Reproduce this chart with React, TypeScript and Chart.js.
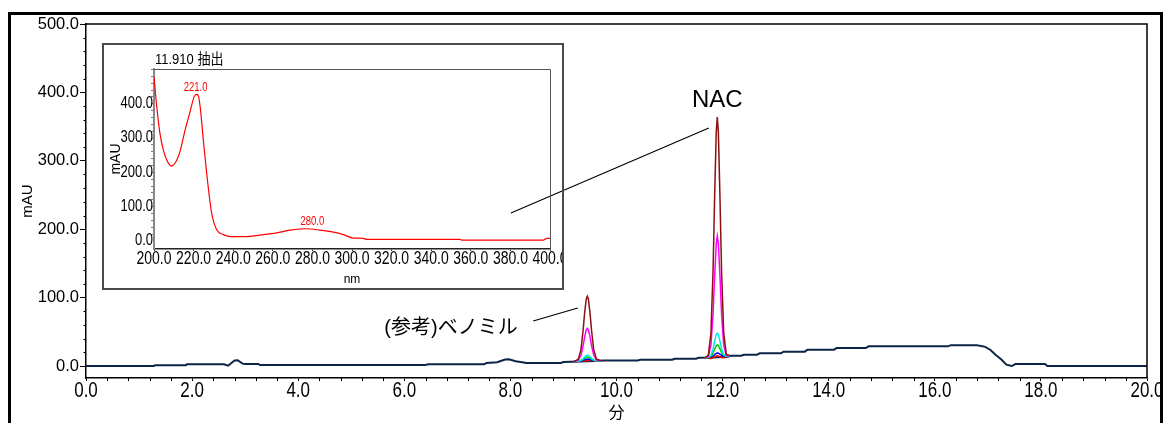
import React, { useEffect, useRef } from 'react';
import { Chart, registerables } from 'chart.js';

Chart.register(...registerables);

// ---------------- fonts ----------------
const SANS = "'Liberation Sans', Arial, sans-serif";
const JP = "'Liberation Sans', 'Noto Sans CJK JP', sans-serif";

// ---------------- main chromatogram ----------------
const xTickValues = [0, 2, 4, 6, 8, 10, 12, 14, 16, 18, 20];
const xTickLabels = ['0.0', '2.0', '4.0', '6.0', '8.0', '10.0', '12.0', '14.0', '16.0', '18.0', '20.0'];
const yTickValues = [0, 100, 200, 300, 400, 500];
const yTickLabels = ['0.0', '100.0', '200.0', '300.0', '400.0', '500.0'];
const xMinorStep = 0.4;
const yMinorStep = 20;

// baseline (all channels overlap)
const baseTimes = [
  0, 1.28, 1.3, 1.88, 1.9, 2.6, 2.68, 2.8, 2.86, 2.95, 3.0, 3.25, 3.28, 4.0, 5.0, 6.4, 6.45,
  7.5, 7.55, 7.75, 7.9, 7.97, 8.1, 8.25, 8.3, 8.95, 9.0, 9.3, 9.6, 9.75, 10.4, 10.45, 11.05,
  11.1, 11.5, 11.55, 11.8, 12.0, 12.1, 12.15, 12.35, 12.4, 12.65, 12.7, 13.1, 13.15, 13.55,
  13.6, 14.1, 14.15, 14.7, 14.75, 16.25, 16.3, 16.8, 16.85, 16.95, 17.05, 17.15, 17.25,
  17.35, 17.45, 17.52, 18.08, 18.12, 20.0,
];
const baseValues = [
  0, 0, 1.2, 1.2, 2.5, 2.5, 0.5, 8, 8.5, 3.5, 3, 3, 1.5, 1.5, 1.5, 1.5, 2.5,
  2.5, 4.4, 5.5, 9.5, 9.8, 7, 5, 4.4, 4.4, 5.8, 6.5, 7.3, 8.0, 8.0, 9.2, 9.2,
  10.7, 10.7, 12.1, 12.5, 13.2, 13.6, 15.0, 15.0, 16.5, 16.5, 18.5, 18.5, 21, 21,
  23.9, 23.9, 26.3, 26.3, 28.8, 28.8, 30.5, 30.5, 29.5, 28, 23.5, 16, 10,
  2, 0, 2.9, 2.9, 0, 0,
];

// (参考)ベノミル peak
const peakTimesA = [9.2, 9.28, 9.33, 9.37, 9.4, 9.43, 9.45, 9.47, 9.5, 9.53, 9.57, 9.62, 9.7];
// NAC peak
const peakTimesB = [11.66, 11.73, 11.78, 11.82, 11.85, 11.88, 11.9, 11.92, 11.95, 11.98, 12.02, 12.07, 12.14];

const darkRedA = [6.5, 10, 24, 52, 78, 98, 102, 98, 78, 52, 24, 10.5, 7.8];
const darkRedB = [11.6, 15.7, 47.5, 139, 248, 342, 364, 342, 248, 140, 48.7, 17, 15];
const magentaA = [6.5, 8.5, 15.5, 29.5, 42.7, 52.8, 55, 52.8, 43, 30, 16, 9, 7.8];
const magentaB = [11.6, 14, 30, 76, 131, 179, 190, 179, 132, 77, 31, 15.4, 15];
const cyanA = [6.5, 7.3, 8.6, 11, 13.3, 15.1, 16, 15.5, 13.6, 11.3, 8.9, 7.7, 7.8];
const cyanB = [11.6, 12.6, 16, 25, 36, 46, 48, 46, 36.5, 26, 17, 14, 15];
const greenA = [6.5, 7.1, 8, 9.8, 11.5, 12.8, 13, 12.9, 11.7, 10.1, 8.5, 7.6, 7.8];
const greenB = [11.6, 12.4, 14.2, 19, 24.6, 30, 31, 30, 25, 20, 15.4, 13.8, 15];
const blueA = [6.5, 7, 7.5, 8.4, 9.2, 9.9, 10, 10.1, 9.5, 8.7, 7.9, 7.6, 7.8];
const blueB = [11.6, 12.3, 13, 14.7, 16.6, 18.5, 19, 18.8, 17.4, 15.7, 14.2, 13.7, 15];
const redA = [6.5, 6.8, 7.2, 7.6, 7.8, 8, 8.1, 8.2, 8.1, 7.9, 7.6, 7.5, 7.8];
const redB = [11.6, 11.5, 11, 12, 13.5, 14.8, 15, 14.8, 13.8, 12.6, 12, 13, 15];

const traceColors = ['#8c1010', '#ff00ff', '#00e8f0', '#00cc00', '#0000ff', '#ff0000'];
const traceA = [darkRedA, magentaA, cyanA, greenA, blueA, redA];
const traceB = [darkRedB, magentaB, cyanB, greenB, blueB, redB];
const baselineColor = '#0b2447';

// annotations (data coordinates)
const nacText = 'NAC';
const nacTextAt = [11.9, 389];
const nacLine = [[8.01, 223.7], [11.74, 348]];
const benoText = '(参考)ベノミル';
const benoTextAt = [6.88, 55.6];
const benoLine = [[8.43, 65.8], [9.27, 84.8]];

// ---------------- inset UV spectrum ----------------
const insetTitle = '11.910 抽出';
const wavelengths = [
  200, 201.4, 203, 204.7, 206.4, 208.6, 210.6, 213.1, 215.7, 218.2, 220.2, 221.5, 222.5, 223.5,
  224.9, 226.6, 229.1, 231.6, 235, 239.2, 246.8, 253.5, 261.9, 268.7, 277.1, 283.8, 290.6,
  295.6, 300.7, 305.7, 307.4, 354.5, 355.4, 396.6, 398.3, 400,
];
const absorbance = [
  478, 389, 312, 264, 235, 217, 225, 259, 322, 375, 418, 426, 420, 380,
  293, 196, 80, 32, 17, 11, 11, 15.5, 22, 30, 34, 30, 24,
  17, 7, 6, 3, 3, 1, 1, 6, 6,
];
const insetXTicks = [200, 220, 240, 260, 280, 300, 320, 340, 360, 380, 400];
const insetXLabels = ['200.0', '220.0', '240.0', '260.0', '280.0', '300.0', '320.0', '340.0', '360.0', '380.0', '400.0'];
const insetYTicks = [0, 100, 200, 300, 400];
const insetYLabels = ['0.0', '100.0', '200.0', '300.0', '400.0'];
const insetYMinorStep = 20;
const peakLabelText = ['221.0', '280.0'];
const peakLabelX = [221.0, 280.0];
const peakLabelY = [426, 34];

const toPoints = (xs: number[], ys: number[]) => xs.map((x, i) => ({ x, y: ys[i] }));

// text drawn with a vertical stretch (the original uses a tall, narrow face)
function tallText(ctx: any, text: string, x: number, y: number, font: string, sy: number, align: string, color = '#000') {
  ctx.save();
  ctx.font = font;
  ctx.fillStyle = color;
  ctx.textAlign = align;
  ctx.textBaseline = 'middle';
  ctx.translate(x, y);
  ctx.scale(1, sy);
  ctx.fillText(text, 0, 0);
  ctx.restore();
}

function mainConfig(): any {
  const datasets: any[] = traceColors.map((c, k) => ({
    data: [...toPoints(peakTimesA, traceA[k]), { x: 10.6, y: null }, ...toPoints(peakTimesB, traceB[k])],
    borderColor: c,
    borderWidth: 1.5,
    pointRadius: 0,
    spanGaps: false,
    fill: false,
  }));
  datasets.push({
    data: toPoints(baseTimes, baseValues),
    borderColor: baselineColor,
    borderWidth: 2,
    pointRadius: 0,
    fill: false,
  });

  const decor = {
    id: 'mainDecor',
    afterDraw(chart: any) {
      const { ctx, chartArea: a, scales } = chart;
      const xs = scales.x;
      const ys = scales.y;
      ctx.save();
      // frame
      ctx.strokeStyle = '#000';
      ctx.lineWidth = 1.5;
      ctx.beginPath();
      ctx.moveTo(a.left, a.top);
      ctx.lineTo(a.right, a.top);
      ctx.lineTo(a.right, a.bottom);
      ctx.stroke();
      // minor ticks
      ctx.lineWidth = 1;
      ctx.beginPath();
      for (let k = 0; k * xMinorStep <= xs.max + 1e-9; k++) {
        if (k % 5 === 0) continue;
        const px = Math.round(xs.getPixelForValue(k * xMinorStep)) + 0.5;
        ctx.moveTo(px, a.bottom);
        ctx.lineTo(px, a.bottom + 3);
      }
      for (let k = 0; k * yMinorStep <= ys.max + 1e-9; k++) {
        if (k % 5 === 0) continue;
        const py = Math.round(ys.getPixelForValue(k * yMinorStep)) + 0.5;
        ctx.moveTo(a.left - 2.5, py);
        ctx.lineTo(a.left, py);
      }
      ctx.stroke();
      // x tick labels
      xTickValues.forEach((v, i) => {
        tallText(ctx, xTickLabels[i], xs.getPixelForValue(v), a.bottom + 13, `17px ${SANS}`, 1.3, 'center');
      });
      // annotation lines
      ctx.lineWidth = 1.2;
      ctx.strokeStyle = '#000';
      ctx.beginPath();
      for (const ln of [nacLine, benoLine]) {
        ctx.moveTo(xs.getPixelForValue(ln[0][0]), ys.getPixelForValue(ln[0][1]));
        ctx.lineTo(xs.getPixelForValue(ln[1][0]), ys.getPixelForValue(ln[1][1]));
      }
      ctx.stroke();
      // annotation texts
      ctx.fillStyle = '#000';
      ctx.textAlign = 'center';
      ctx.textBaseline = 'middle';
      ctx.font = `24px ${SANS}`;
      ctx.fillText(nacText, xs.getPixelForValue(nacTextAt[0]), ys.getPixelForValue(nacTextAt[1]));
      ctx.font = `20px ${JP}`;
      ctx.fillText(benoText, xs.getPixelForValue(benoTextAt[0]), ys.getPixelForValue(benoTextAt[1]));
      ctx.restore();
    },
  };

  return {
    type: 'line',
    data: { datasets },
    plugins: [decor],
    options: {
      responsive: false,
      animation: false,
      layout: { padding: { left: 0, top: 24, right: 16, bottom: 0 } },
      plugins: { legend: { display: false }, tooltip: { enabled: false }, title: { display: false } },
      elements: { line: { tension: 0 }, point: { radius: 0 } },
      scales: {
        x: {
          type: 'linear',
          min: 0,
          max: 20,
          afterFit: (s: any) => { s.height = 45; s.paddingRight = 0; s.paddingLeft = 0; },
          afterBuildTicks: (s: any) => { s.ticks = xTickValues.map((v) => ({ value: v })); },
          ticks: { display: false, autoSkip: false },
          grid: { drawOnChartArea: false, drawTicks: true, tickLength: 3, tickColor: '#000', tickWidth: 1 },
          border: { display: true, color: '#000', width: 1.5 },
          title: { display: true, text: '分', color: '#000', font: { family: JP, size: 16, lineHeight: 1.2 }, padding: { top: 0, bottom: 0 } },
        },
        y: {
          type: 'linear',
          min: -17.5,
          max: 500,
          afterFit: (s: any) => { s.width = 86; },
          afterBuildTicks: (s: any) => { s.ticks = yTickValues.map((v) => ({ value: v })); },
          ticks: {
            callback: (_v: any, i: number) => yTickLabels[i],
            font: { family: SANS, size: 16.5, lineHeight: 1 },
            color: '#000',
            padding: 1,
            autoSkip: false,
          },
          grid: { drawOnChartArea: false, drawTicks: true, tickLength: 6, tickColor: '#000', tickWidth: 1 },
          border: { display: true, color: '#000', width: 1.5 },
          title: { display: true, text: 'mAU', color: '#000', font: { family: SANS, size: 15, lineHeight: 1.2 }, padding: { top: 19, bottom: 0 } },
        },
      },
    },
  };
}

function insetConfig(): any {
  const decor = {
    id: 'insetDecor',
    afterDraw(chart: any) {
      const { ctx, chartArea: a, scales, width, height } = chart;
      const xs = scales.x;
      const ys = scales.y;
      ctx.save();
      // plot frame
      ctx.strokeStyle = '#555';
      ctx.lineWidth = 1;
      ctx.beginPath();
      ctx.moveTo(a.left, Math.round(a.top) + 0.5);
      ctx.lineTo(Math.round(a.right) + 0.5, Math.round(a.top) + 0.5);
      ctx.lineTo(Math.round(a.right) + 0.5, a.bottom);
      ctx.stroke();
      // minor ticks on y
      ctx.strokeStyle = '#777';
      ctx.beginPath();
      for (let k = 1; k * insetYMinorStep <= ys.max; k++) {
        const py = Math.round(ys.getPixelForValue(k * insetYMinorStep)) + 0.5;
        ctx.moveTo(a.left - 3, py);
        ctx.lineTo(a.left - 1, py);
      }
      ctx.stroke();
      // tick labels
      insetXTicks.forEach((v, i) => {
        tallText(ctx, insetXLabels[i], xs.getPixelForValue(v), a.bottom + 9.5, `14px ${SANS}`, 1.3, 'center');
      });
      insetYTicks.forEach((v, i) => {
        tallText(ctx, insetYLabels[i], a.left - 1, ys.getPixelForValue(v), `13px ${SANS}`, 1.3, 'right');
      });
      // title
      tallText(ctx, insetTitle, a.left + 1, a.top - 9, `13px ${JP}`, 1.15, 'left');
      // peak labels
      peakLabelText.forEach((t, i) => {
        tallText(ctx, t, xs.getPixelForValue(peakLabelX[i]), ys.getPixelForValue(peakLabelY[i]) - 7, `9.5px ${SANS}`, 1.3, 'center', '#ff0000');
      });
      // outer box
      ctx.strokeStyle = '#4a4a4a';
      ctx.lineWidth = 2;
      ctx.strokeRect(1, 1, width - 2, height - 2);
      ctx.restore();
    },
  };

  return {
    type: 'line',
    data: {
      datasets: [
        {
          data: toPoints(wavelengths, absorbance),
          borderColor: '#ff0000',
          borderWidth: 1.2,
          pointRadius: 0,
          fill: false,
          cubicInterpolationMode: 'monotone',
        },
      ],
    },
    plugins: [decor],
    options: {
      responsive: false,
      animation: false,
      layout: { padding: { left: 0, top: 26, right: 14, bottom: 0 } },
      plugins: { legend: { display: false }, tooltip: { enabled: false } },
      scales: {
        x: {
          type: 'linear',
          min: 200,
          max: 400,
          afterFit: (s: any) => { s.height = 41; s.paddingRight = 0; s.paddingLeft = 0; },
          afterBuildTicks: (s: any) => { s.ticks = insetXTicks.map((v) => ({ value: v })); },
          ticks: { display: false, autoSkip: false },
          grid: { drawOnChartArea: false, drawTicks: true, tickLength: 2, tickColor: '#333' },
          border: { display: true, color: '#222', width: 1.5 },
          title: { display: true, text: 'nm', color: '#000', font: { family: SANS, size: 12, lineHeight: 1.2 }, padding: { top: 0, bottom: 3 } },
        },
        y: {
          type: 'linear',
          min: -25,
          max: 500,
          afterFit: (s: any) => { s.width = 52; s.paddingTop = 0; s.paddingBottom = 0; },
          afterBuildTicks: (s: any) => { s.ticks = insetYTicks.map((v) => ({ value: v })); },
          ticks: { display: false, autoSkip: false },
          grid: { drawOnChartArea: false, drawTicks: false },
          border: { display: true, color: '#888', width: 2 },
          title: { display: true, text: 'mAU', color: '#000', font: { family: SANS, size: 14, lineHeight: 1.2 }, padding: { top: 6, bottom: 0 } },
        },
      },
    },
  };
}

export default function App() {
  const mainRef = useRef<HTMLCanvasElement>(null);
  const insetRef = useRef<HTMLCanvasElement>(null);

  useEffect(() => {
    const main = new Chart(mainRef.current as HTMLCanvasElement, mainConfig());
    const inset = new Chart(insetRef.current as HTMLCanvasElement, insetConfig());
    return () => {
      main.destroy();
      inset.destroy();
    };
  }, []);

  return (
    <div style={{ position: 'fixed', left: 0, top: 0, width: 1163, height: 423, background: '#fff', overflow: 'hidden' }}>
      <canvas ref={mainRef} width={1163} height={423} style={{ position: 'absolute', left: 0, top: 0, width: 1163, height: 423 }} />
      <div
        style={{
          position: 'absolute', left: 8, top: 12, width: 1155, height: 411, boxSizing: 'border-box',
          border: '3px solid #000', borderBottom: 'none', pointerEvents: 'none',
        }}
      />
      <canvas ref={insetRef} width={462} height={247} style={{ position: 'absolute', left: 102, top: 43, width: 462, height: 247 }} />
    </div>
  );
}
